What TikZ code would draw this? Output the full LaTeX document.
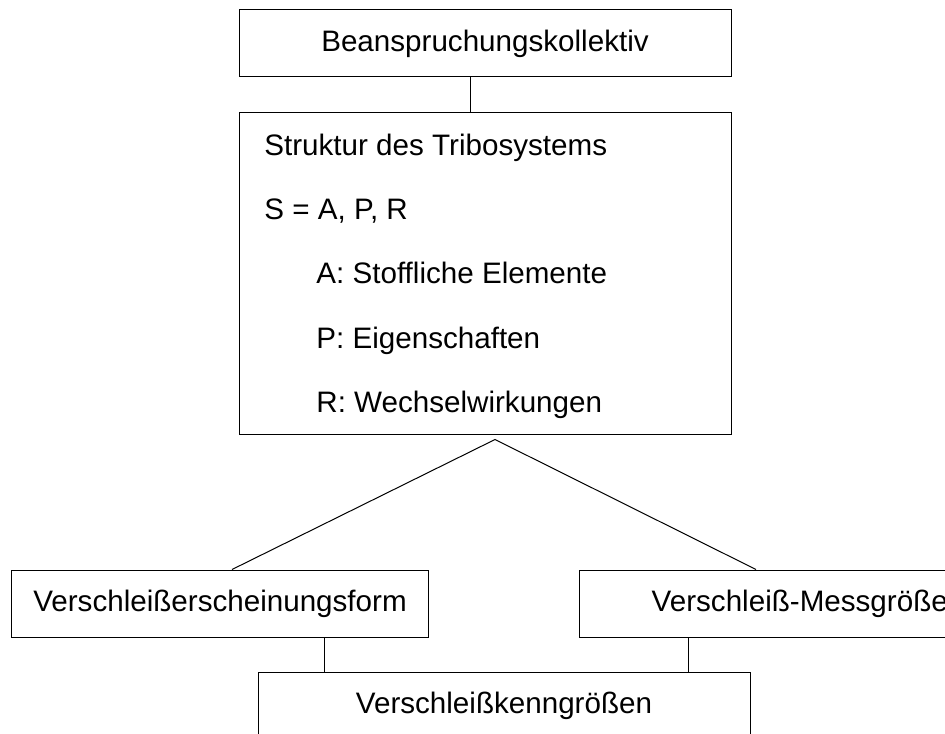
\documentclass[tikz,border=0pt]{standalone}
\usepackage{fontspec}
\setmainfont{Liberation Sans}
\usepackage{tikz}
\usetikzlibrary{calc, positioning}

\begin{document}
\begin{tikzpicture}[x=0.5pt, y=-0.5pt,
        box/.style={draw, line width=0.5pt, inner sep=0pt, minimum height=33.5pt, font=\fontsize{14.8pt}{18pt}\selectfont},
        line/.style={anchor=base west, inner sep=0pt, font=\fontsize{14.8pt}{18pt}\selectfont}]
    \useasboundingbox (0,0) rectangle (945,733);
    \node[box, minimum width=246pt] (kollektiv) at (485,43.5) {Beanspruchungskollektiv};
    \node[box, minimum width=246pt, minimum height=161pt] (struktur) at (485,273) {};
    \node[line] (titel) at (264,155) {Struktur des Tribosystems};
    \node[line] (formel) at (264,219.4) {S = A, P, R};
    \node[line] (elemente) at (316,283.8) {A: Stoffliche Elemente};
    \node[line] (eigenschaften) at (316,348.2) {P: Eigenschaften};
    \node[line] (wechsel) at (316,412.6) {R: Wechselwirkungen};
    \node[box, minimum width=208.3pt] (form) at (220,603.5) {Verschleißerscheinungsform};
    \node[box, minimum width=229pt] (mess) at (808,603.5) {Verschleiß-Messgröße\phantom{n}};
    \node[box, minimum width=246pt] (kenn) at (504,705.5) {Verschleißkenngrößen};
    \coordinate (tp) at ($(kollektiv.south)+(-15,0)$);
    \coordinate (apex) at ($(struktur.south)+(10,5)$);
    \coordinate (lp) at ($(form.south)+(104,0)$);
    \coordinate (rp) at ($(mess.south)+(-120,0)$);
    \draw[line width=0.5pt] (tp) -- (tp |- struktur.north);
    \draw[line width=0.5pt] ($(form.north)+(12,0)$) -- (apex) -- ($(mess.north)+(-52,0)$);
    \draw[line width=0.5pt] (lp) -- (lp |- kenn.north);
    \draw[line width=0.5pt] (rp) -- (rp |- kenn.north);
\end{tikzpicture}
\end{document}
